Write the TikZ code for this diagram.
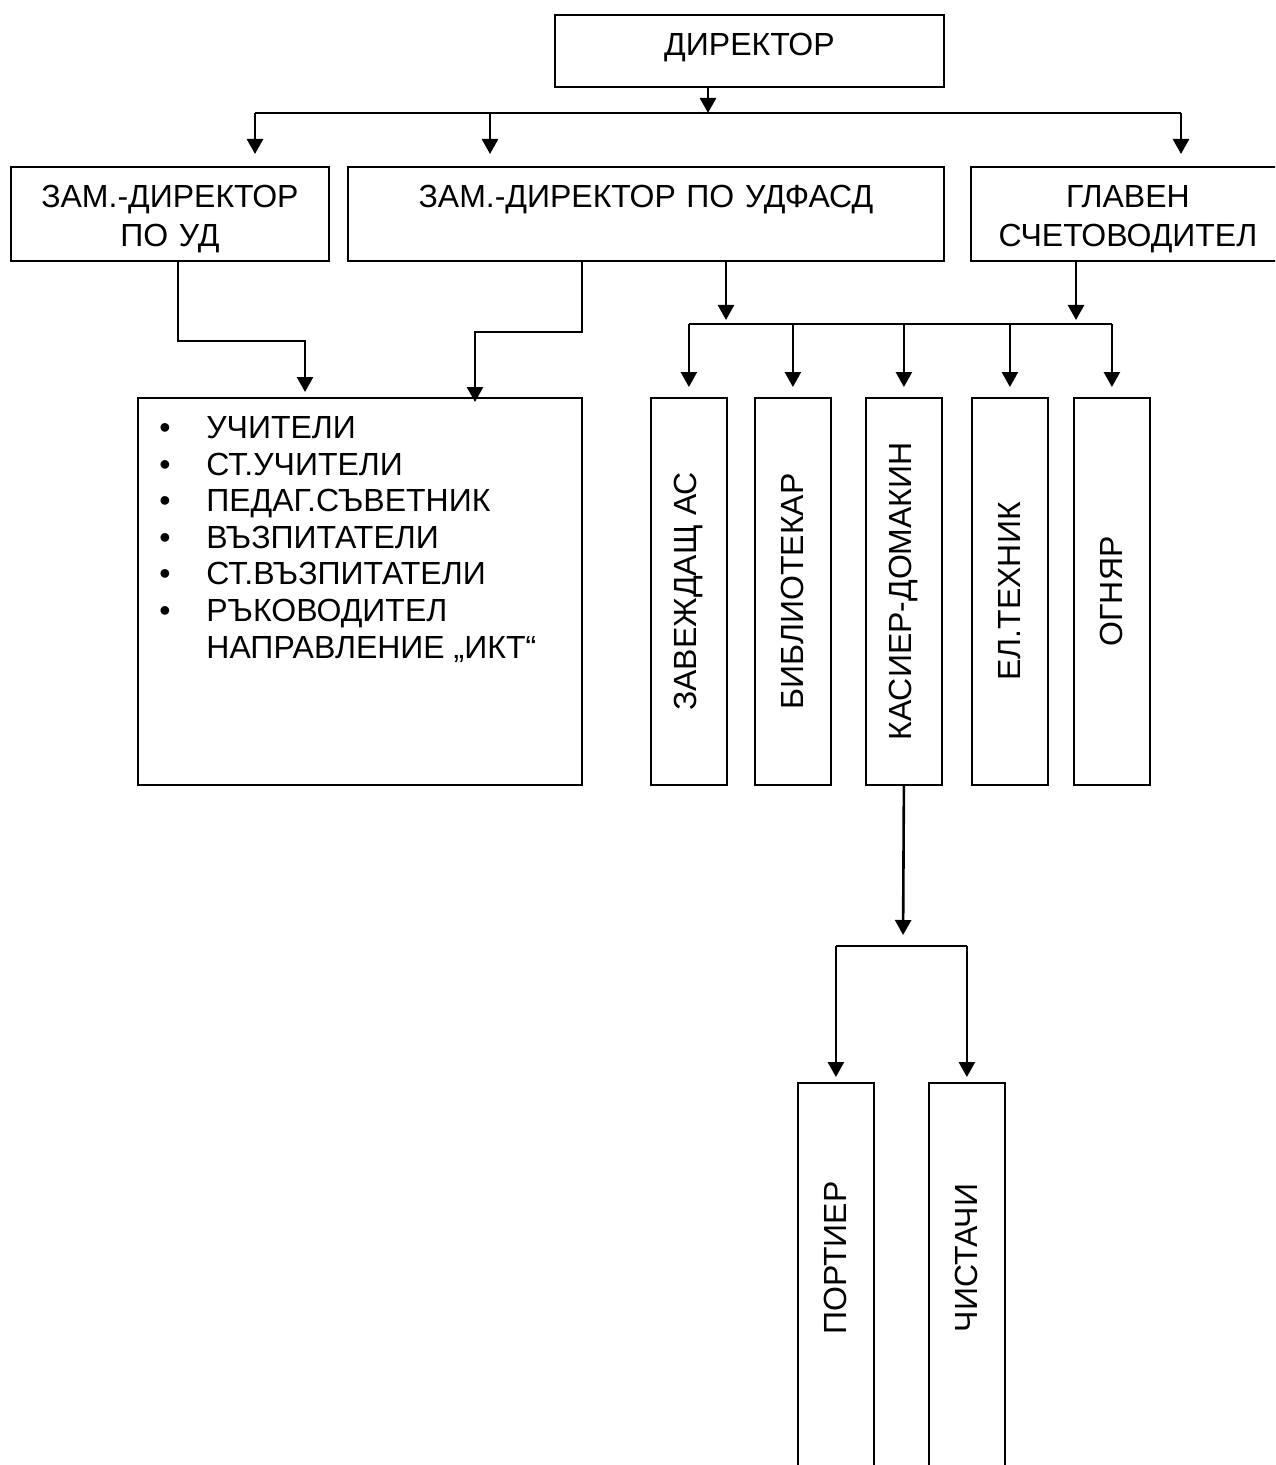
\documentclass[tikz,border=0pt]{standalone}
\usepackage{fontspec}
\setmainfont{Liberation Sans}
\usepackage{graphicx}
\usetikzlibrary{arrows.meta}

\newcommand{\bul}{\makebox[23.5pt][l]{\textbullet}}

\begin{document}
\begin{tikzpicture}[x=0.5pt,y=-0.5pt,
        font=\fontsize{16}{19.5}\selectfont,
        box/.style={draw, line width=0.9pt, inner sep=0pt, anchor=north west,
                        align=center, text height=20.5pt, text depth=26.5pt},
        vbox/.style={draw, line width=0.9pt, inner sep=0pt, anchor=north west,
                        minimum width=38pt, minimum height=193.5pt},
        conn/.style={line width=1.3pt},
        arr/.style={conn, -{Triangle[length=7.5pt,width=8pt]}}]
    \useasboundingbox (0,0) rectangle (1275,1465);
    \clip (0,0) rectangle (1275,1465);

    \node[box, text width=194.5pt, text depth=15.5pt] (dir) at (554,14) {ДИРЕКТОР};
    \node[box, text width=159pt] (zud) at (10,166) {ЗАМ.-ДИРЕКТОР\\ПО УД};
    \node[box, text width=298pt] (zfa) at (347,166) {ЗАМ.-ДИРЕКТОР ПО УДФАСД};
    \node[box, text width=157pt] (gs) at (970,166) {ГЛАВЕН\\СЧЕТОВОДИТЕЛ};

    \node[draw, line width=0.9pt, inner sep=0pt, anchor=north west,
        minimum width=222pt, minimum height=193.5pt] (teach) at (137,397) {};
    \node[anchor=base west, align=left, inner sep=0pt,
        font=\fontsize{16}{18.3}\selectfont] (lst) at (159,658)
        {\bul УЧИТЕЛИ\\ \bul СТ.УЧИТЕЛИ\\ \bul ПЕДАГ.СЪВЕТНИК\\
         \bul ВЪЗПИТАТЕЛИ\\ \bul СТ.ВЪЗПИТАТЕЛИ\\ \bul РЪКОВОДИТЕЛ\\
         \hspace*{23.5pt}НАПРАВЛЕНИЕ „ИКТ“};

    \node[vbox] (zav) at (650,397) {\rotatebox{90}{ЗАВЕЖДАЩ АС}};
    \node[vbox] (bib) at (754,397) {\rotatebox{90}{БИБЛИОТЕКАР}};
    \node[vbox] (kas) at (865,397) {\rotatebox{90}{КАСИЕР-ДОМАКИН}};
    \node[vbox] (elt) at (971,397) {\rotatebox{90}{ЕЛ.ТЕХНИК}};
    \node[vbox] (ogn) at (1073,397) {\rotatebox{90}{ОГНЯР}};

    \node[vbox, minimum height=200pt] (port) at (797,1082) {};
    \node[vbox, minimum height=200pt] (chi) at (928,1082) {};
    \node[rotate=90] (tport) at (835,1258) {ПОРТИЕР};
    \node[rotate=90] (tchi) at (966,1258) {ЧИСТАЧИ};

    \coordinate (top) at (708,113);
    \coordinate (t1) at (255,113);
    \coordinate (t2) at (490,113);
    \coordinate (t3) at (1181,113);
    \draw[arr] (top |- dir.south) -- (top);
    \draw[conn] (t1) -- (t3);
    \foreach \c/\n in {t1/zud, t2/zfa, t3/gs}
        \draw[arr, shorten >=6pt] (\c) -- (\c |- \n.north);

    \coordinate (k1) at (178,341);
    \coordinate (k2) at (305,341);
    \coordinate (k3) at (582,332);
    \coordinate (k4) at (475,332);
    \draw[arr, shorten >=2.5pt] (k1 |- zud.south) -- (k1) -- (k2) -- (k2 |- teach.north);
    \draw[arr, shorten >=-2.5pt] (k3 |- zfa.south) -- (k3) -- (k4) -- (k4 |- teach.north);

    \coordinate (u1) at (726,324);
    \coordinate (u2) at (1076,324);
    \draw[arr, shorten >=2pt] (u1 |- zfa.south) -- (u1);
    \draw[arr, shorten >=2pt] (u2 |- gs.south) -- (u2);
    \draw[conn] (u1 -| zav) -- (u1 -| ogn);
    \foreach \n in {zav,bib,kas,elt,ogn}
        \draw[arr, shorten >=5pt] (u1 -| \n.north) -- (\n.north);

    \coordinate (w) at (903,946);
    \draw[arr, shorten >=5.5pt] (kas.south) -- (w);
    \draw[conn] (w -| port) -- (w -| chi);
    \foreach \n in {port,chi}
        \draw[arr, shorten >=2.5pt] (w -| \n.north) -- (\n.north);
\end{tikzpicture}
\end{document}
